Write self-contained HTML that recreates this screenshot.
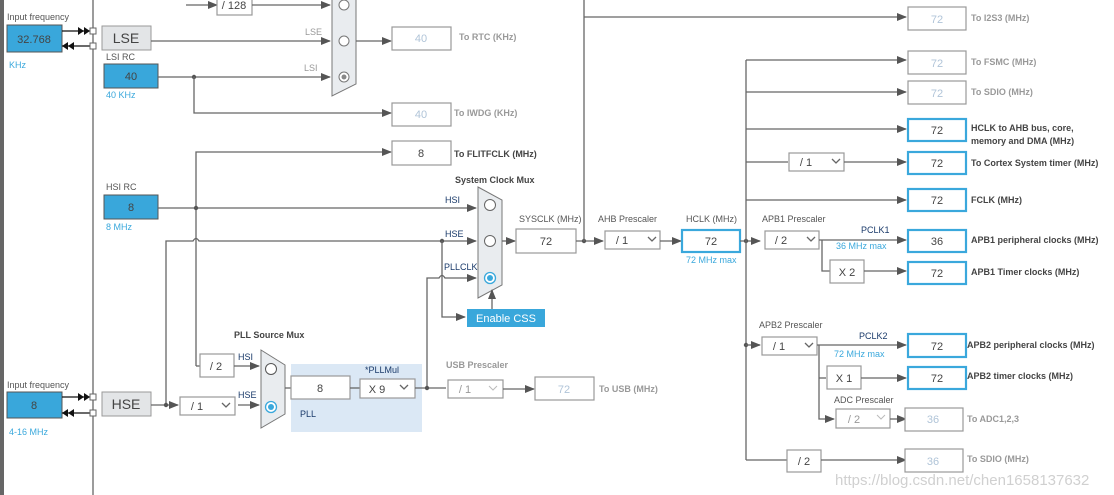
<!DOCTYPE html>
<html><head><meta charset="utf-8"><style>
html,body{margin:0;padding:0;background:#fff;}
svg{display:block;font-family:"Liberation Sans",sans-serif;}
.ln{stroke:#666;stroke-width:1.3;fill:none}
.bx{fill:#fff;stroke:#999;stroke-width:1.2}
.bb{fill:#fff;stroke:#3aa8dc;stroke-width:2.2}
.blue{fill:#39a7db;stroke:#555;stroke-width:1}
.t{font-size:9px;fill:#555}
.tb{font-size:9px;fill:#444;font-weight:bold}
.tc{font-size:9px;fill:#3aa8dc}
.tg{font-size:9px;fill:#999}
.tn{font-size:9px;fill:#1a3a6a}
.v{font-size:11px;fill:#444;text-anchor:middle}
.vl{font-size:11px;fill:#b0c4d8;text-anchor:middle}
.mux{fill:#e9ecef;stroke:#777;stroke-width:1}
</style></head><body>
<svg width="1114" height="495" viewBox="0 0 1114 495" xmlns="http://www.w3.org/2000/svg">
<defs>
<marker id="a" markerWidth="10" markerHeight="8" refX="9" refY="4" orient="auto" markerUnits="userSpaceOnUse"><path d="M0,0 L10,4 L0,8 z" fill="#555"/></marker>
</defs>
<rect x="0" y="0" width="4" height="495" fill="#666"/>
<line x1="93" y1="0" x2="93" y2="495" class="ln"/>

<!-- LSE input -->
<text x="7" y="20" class="t">Input frequency</text>
<rect x="7" y="25" width="55" height="27" class="blue"/>
<text x="34" y="43" class="v">32.768</text>
<text x="9" y="68" class="tc">KHz</text>
<line x1="62" y1="31" x2="90" y2="31" stroke="#111" stroke-width="1.3"/>
<path d="M78,27 L84,31 L78,35z M84,27 L90,31 L84,35z" fill="#111"/>
<line x1="62" y1="46" x2="90" y2="46" stroke="#111" stroke-width="1.3"/>
<path d="M68,46 L74,42 L74,50z M62,46 L68,42 L68,50z" fill="#111"/>
<rect x="90" y="28" width="6" height="6" fill="#fff" stroke="#666"/>
<rect x="90" y="43" width="6" height="6" fill="#fff" stroke="#666"/>
<rect x="102" y="26" width="49" height="24" fill="#e3e5e7" stroke="#999"/>
<text x="126" y="43" class="v" style="font-size:14px">LSE</text>
<text x="106" y="60" class="t">LSI RC</text>
<rect x="104" y="64" width="54" height="24" class="blue"/>
<text x="131" y="80" class="v">40</text>
<text x="106" y="98" class="tc">40 KHz</text>

<!-- /128 and RTC mux -->
<line x1="186" y1="5" x2="217" y2="5" class="ln" marker-end="url(#a)"/>
<rect x="217" y="-2" width="35" height="17" class="bx"/>
<text x="234" y="9" class="v">/ 128</text>
<line x1="252" y1="5" x2="330" y2="5" class="ln" marker-end="url(#a)"/>
<line x1="151" y1="41" x2="330" y2="41" class="ln" marker-end="url(#a)"/>
<text x="305" y="35" class="tg">LSE</text>
<line x1="158" y1="77" x2="330" y2="77" class="ln" marker-end="url(#a)"/>
<text x="304" y="71" class="tg">LSI</text>
<circle cx="194" cy="77" r="2.2" fill="#555"/>
<polyline points="194,77 194,113 391,113" class="ln" marker-end="url(#a)"/>
<path d="M332,-5 L356,-5 L356,84 L332,96 Z" class="mux"/>
<circle cx="344" cy="5" r="5" fill="#fff" stroke="#777"/>
<circle cx="344" cy="41" r="5" fill="#fff" stroke="#777"/>
<circle cx="344" cy="77" r="5" fill="#fff" stroke="#777"/>
<circle cx="344" cy="77" r="2.5" fill="#888"/>
<line x1="356" y1="41" x2="391" y2="41" class="ln" marker-end="url(#a)"/>
<rect x="392" y="27" width="59" height="23" class="bx"/><text x="421" y="42" class="vl">40</text>
<text x="459" y="40" class="tg" style="font-weight:bold">To RTC (KHz)</text>
<rect x="392" y="103" width="59" height="23" class="bx"/><text x="421" y="118" class="vl">40</text>
<text x="454" y="116" class="tg" style="font-weight:bold">To IWDG (KHz)</text>

<!-- FLITF -->
<polyline points="196,366 196,152 391,152" class="ln" marker-end="url(#a)"/>
<rect x="392" y="141" width="59" height="24" class="bx"/><text x="421" y="157" class="v">8</text>
<text x="454" y="157" class="tb">To FLITFCLK (MHz)</text>

<!-- HSI -->
<text x="106" y="190" class="t">HSI RC</text>
<rect x="104" y="195" width="54" height="24" class="blue"/>
<text x="131" y="211" class="v">8</text>
<text x="106" y="230" class="tc">8 MHz</text>
<line x1="158" y1="208" x2="476" y2="208" class="ln" marker-end="url(#a)"/>
<circle cx="196" cy="208" r="2.2" fill="#555"/>
<text x="445" y="203" class="tn">HSI</text>
<!-- HSE line -->
<path d="M166,405 L166,241 L193,241 Q196,236 199,241 L476,241" class="ln" marker-end="url(#a)"/>
<text x="445" y="237" class="tn">HSE</text>
<circle cx="442" cy="241" r="2.2" fill="#555"/>
<polyline points="442,241 442,317 465,317" class="ln" marker-end="url(#a)"/>
<!-- PLLCLK -->
<path d="M427,388 L427,278 L439,278 Q442,273 445,278 L476,278" class="ln" marker-end="url(#a)"/>
<text x="444" y="270" class="tn">PLLCLK</text>
<text x="455" y="183" class="tb">System Clock Mux</text>
<path d="M478,187 L502,200 L502,285 L478,298 Z" class="mux"/>
<circle cx="490" cy="205" r="5.5" fill="#fff" stroke="#666"/>
<circle cx="490" cy="241" r="5.5" fill="#fff" stroke="#666"/>
<circle cx="490" cy="278" r="5.5" fill="#fff" stroke="#3aa8dc" stroke-width="1.3"/>
<circle cx="490" cy="278" r="3" fill="#3aa8dc"/>
<rect x="467" y="309" width="78" height="18" fill="#39a7db"/>
<text x="506" y="322" style="font-size:11px;fill:#fff;text-anchor:middle">Enable CSS</text>
<line x1="492" y1="309" x2="492" y2="290" class="ln" marker-end="url(#a)"/>

<!-- SYSCLK -->
<line x1="502" y1="241" x2="515" y2="241" class="ln" marker-end="url(#a)"/>
<text x="519" y="222" class="t">SYSCLK (MHz)</text>
<rect x="516" y="229" width="60" height="24" class="bx"/><text x="546" y="245" class="v">72</text>
<line x1="576" y1="241" x2="603" y2="241" class="ln" marker-end="url(#a)"/>
<circle cx="584" cy="241" r="2.2" fill="#555"/>
<line x1="584" y1="0" x2="584" y2="241" class="ln"/>
<line x1="584" y1="17" x2="906" y2="17" class="ln" marker-end="url(#a)"/>
<text x="598" y="222" class="t">AHB Prescaler</text>
<rect x="605" y="231" width="55" height="18" class="bx"/><text x="622" y="244" class="v">/ 1</text>
<path d="M648,237 L652,241 L656,237" class="ln"/>
<line x1="660" y1="241" x2="681" y2="241" class="ln" marker-end="url(#a)"/>
<text x="686" y="222" class="t">HCLK (MHz)</text>
<rect x="682" y="230" width="58" height="22" class="bb"/><text x="711" y="245" class="v">72</text>
<text x="686" y="263" class="tc">72 MHz max</text>
<line x1="740" y1="241" x2="760" y2="241" class="ln" marker-end="url(#a)"/>
<circle cx="746" cy="241" r="2.2" fill="#555"/>
<line x1="746" y1="60" x2="746" y2="460" class="ln"/>

<!-- right outputs -->
<line x1="746" y1="60" x2="906" y2="60" class="ln" marker-end="url(#a)"/>
<line x1="746" y1="92" x2="906" y2="92" class="ln" marker-end="url(#a)"/>
<line x1="746" y1="129" x2="906" y2="129" class="ln" marker-end="url(#a)"/>
<line x1="746" y1="162" x2="788" y2="162" class="ln"/>
<rect x="789" y="153" width="55" height="18" class="bx"/><text x="806" y="166" class="v">/ 1</text>
<path d="M832,159 L836,163 L840,159" class="ln"/>
<line x1="844" y1="162" x2="906" y2="162" class="ln" marker-end="url(#a)"/>
<line x1="746" y1="200" x2="906" y2="200" class="ln" marker-end="url(#a)"/>

<rect x="908" y="7" width="58" height="23" class="bx"/><text x="937" y="23" class="vl">72</text>
<text x="971" y="21" class="tg" style="font-weight:bold">To I2S3 (MHz)</text>
<rect x="908" y="51" width="58" height="23" class="bx"/><text x="937" y="67" class="vl">72</text>
<text x="971" y="65" class="tg" style="font-weight:bold">To FSMC (MHz)</text>
<rect x="908" y="81" width="58" height="23" class="bx"/><text x="937" y="97" class="vl">72</text>
<text x="971" y="95" class="tg" style="font-weight:bold">To SDIO (MHz)</text>
<rect x="908" y="119" width="58" height="22" class="bb"/><text x="937" y="134" class="v">72</text>
<text x="971" y="131" class="tb">HCLK to AHB bus, core,</text>
<text x="971" y="144" class="tb">memory and DMA (MHz)</text>
<rect x="908" y="152" width="58" height="22" class="bb"/><text x="937" y="167" class="v">72</text>
<text x="971" y="166" class="tb">To Cortex System timer (MHz)</text>
<rect x="908" y="189" width="58" height="22" class="bb"/><text x="937" y="204" class="v">72</text>
<text x="971" y="203" class="tb">FCLK (MHz)</text>

<!-- APB1 -->
<text x="762" y="222" class="t">APB1 Prescaler</text>
<rect x="765" y="231" width="54" height="18" class="bx"/><text x="781" y="244" class="v">/ 2</text>
<path d="M807,237 L811,241 L815,237" class="ln"/>
<line x1="819" y1="240" x2="906" y2="240" class="ln" marker-end="url(#a)"/>
<text x="861" y="233" class="tn">PCLK1</text>
<text x="836" y="249" class="tc">36 MHz max</text>
<polyline points="822,240 822,271 830,271" class="ln"/>
<rect x="830" y="260" width="34" height="23" class="bx"/><text x="847" y="276" class="v">X 2</text>
<line x1="864" y1="271" x2="906" y2="271" class="ln" marker-end="url(#a)"/>
<rect x="908" y="230" width="58" height="22" class="bb"/><text x="937" y="245" class="v">36</text>
<text x="971" y="243" class="tb">APB1 peripheral clocks (MHz)</text>
<rect x="908" y="262" width="58" height="22" class="bb"/><text x="937" y="277" class="v">72</text>
<text x="971" y="275" class="tb">APB1 Timer clocks (MHz)</text>

<!-- APB2 -->
<circle cx="746" cy="345" r="2.2" fill="#555"/>
<line x1="746" y1="345" x2="760" y2="345" class="ln" marker-end="url(#a)"/>
<text x="759" y="328" class="t">APB2 Prescaler</text>
<rect x="762" y="337" width="55" height="18" class="bx"/><text x="779" y="350" class="v">/ 1</text>
<path d="M805,343 L809,347 L813,343" class="ln"/>
<line x1="817" y1="345" x2="906" y2="345" class="ln" marker-end="url(#a)"/>
<text x="859" y="339" class="tn">PCLK2</text>
<text x="834" y="357" class="tc">72 MHz max</text>
<polyline points="819,345 819,419 834,419" class="ln" marker-end="url(#a)"/>
<line x1="819" y1="378" x2="826" y2="378" class="ln"/>
<rect x="827" y="366" width="34" height="23" class="bx"/><text x="844" y="382" class="v">X 1</text>
<line x1="861" y1="378" x2="906" y2="378" class="ln" marker-end="url(#a)"/>
<text x="834" y="403" class="t">ADC Prescaler</text>
<rect x="836" y="409" width="54" height="19" class="bx"/><text x="854" y="423" class="vl" style="fill:#999">/ 2</text>
<path d="M877,415 L881,419 L885,415" stroke="#bbb" fill="none"/>
<line x1="890" y1="419" x2="906" y2="419" class="ln" marker-end="url(#a)"/>
<polyline points="746,460 787,460" class="ln"/>
<rect x="787" y="450" width="34" height="22" class="bx"/><text x="804" y="465" class="v">/ 2</text>
<line x1="821" y1="460" x2="906" y2="460" class="ln" marker-end="url(#a)"/>
<rect x="908" y="334" width="58" height="23" class="bb"/><text x="937" y="350" class="v">72</text>
<text x="967" y="348" class="tb">APB2 peripheral clocks (MHz)</text>
<rect x="908" y="367" width="58" height="22" class="bb"/><text x="937" y="382" class="v">72</text>
<text x="967" y="379" class="tb">APB2 timer clocks (MHz)</text>
<rect x="905" y="408" width="58" height="23" class="bx"/><text x="933" y="423" class="vl">36</text>
<text x="967" y="422" class="tg" style="font-weight:bold">To ADC1,2,3</text>
<rect x="905" y="449" width="58" height="23" class="bx"/><text x="933" y="465" class="vl">36</text>
<text x="967" y="462" class="tg" style="font-weight:bold">To SDIO (MHz)</text>

<!-- HSE input bottom -->
<text x="7" y="388" class="t">Input frequency</text>
<rect x="7" y="392" width="55" height="26" class="blue"/>
<text x="34" y="409" class="v">8</text>
<text x="9" y="435" class="tc">4-16 MHz</text>
<line x1="62" y1="397" x2="90" y2="397" stroke="#111" stroke-width="1.3"/>
<path d="M78,393 L84,397 L78,401z M84,393 L90,397 L84,401z" fill="#111"/>
<line x1="62" y1="413" x2="90" y2="413" stroke="#111" stroke-width="1.3"/>
<path d="M68,413 L74,409 L74,417z M62,413 L68,409 L68,417z" fill="#111"/>
<rect x="90" y="394" width="6" height="6" fill="#fff" stroke="#666"/>
<rect x="90" y="410" width="6" height="6" fill="#fff" stroke="#666"/>
<rect x="102" y="392" width="49" height="24" fill="#e3e5e7" stroke="#999"/>
<text x="126" y="409" class="v" style="font-size:14px">HSE</text>
<line x1="151" y1="405" x2="178" y2="405" class="ln" marker-end="url(#a)"/>
<circle cx="166" cy="405" r="2.2" fill="#555"/>
<rect x="180" y="397" width="55" height="18" class="bx"/><text x="197" y="410" class="v">/ 1</text>
<path d="M222,403 L226,407 L230,403" class="ln"/>
<line x1="238" y1="405" x2="259" y2="405" class="ln" marker-end="url(#a)"/>
<polyline points="196,366 200,366" class="ln"/>
<rect x="200" y="354" width="34" height="23" class="bx"/><text x="216" y="370" class="v">/ 2</text>
<line x1="234" y1="366" x2="259" y2="366" class="ln" marker-end="url(#a)"/>
<text x="238" y="360" class="tn">HSI</text>
<text x="238" y="398" class="tn">HSE</text>
<text x="234" y="338" class="tb">PLL Source Mux</text>
<path d="M261,350 L285,365 L285,414 L261,428 Z" class="mux"/>
<circle cx="271" cy="369" r="5.5" fill="#fff" stroke="#555"/>
<circle cx="271" cy="407" r="5.5" fill="#fff" stroke="#3aa8dc" stroke-width="1.3"/>
<circle cx="271" cy="407" r="3" fill="#3aa8dc"/>
<rect x="291" y="364" width="131" height="68" fill="#dbe8f5"/>
<line x1="285" y1="388" x2="291" y2="388" class="ln"/>
<rect x="291" y="376" width="59" height="23" class="bx"/><text x="320" y="392" class="v">8</text>
<line x1="350" y1="388" x2="360" y2="388" class="ln"/>
<text x="365" y="373" class="tn">*PLLMul</text>
<rect x="360" y="379" width="55" height="19" class="bx"/><text x="377" y="393" class="v">X 9</text>
<path d="M400,385 L404,389 L408,385" class="ln"/>
<text x="300" y="417" class="tn">PLL</text>
<line x1="415" y1="388" x2="446" y2="388" class="ln"/>
<circle cx="427" cy="388" r="2.2" fill="#555"/>
<text x="446" y="368" class="tg" style="font-weight:bold">USB Prescaler</text>
<rect x="448" y="380" width="55" height="18" class="bx"/><text x="465" y="393" class="vl" style="fill:#999">/ 1</text>
<path d="M489,386 L493,390 L497,386" stroke="#bbb" fill="none"/>
<line x1="503" y1="389" x2="534" y2="389" class="ln" marker-end="url(#a)"/>
<rect x="535" y="377" width="59" height="23" class="bx"/><text x="564" y="393" class="vl">72</text>
<text x="599" y="392" class="tg" style="font-weight:bold">To USB (MHz)</text>

<text x="835" y="485" style="font-size:15px;fill:#d0d0d0">https://blog.csdn.net/chen1658137632</text>
</svg>
</body></html>
